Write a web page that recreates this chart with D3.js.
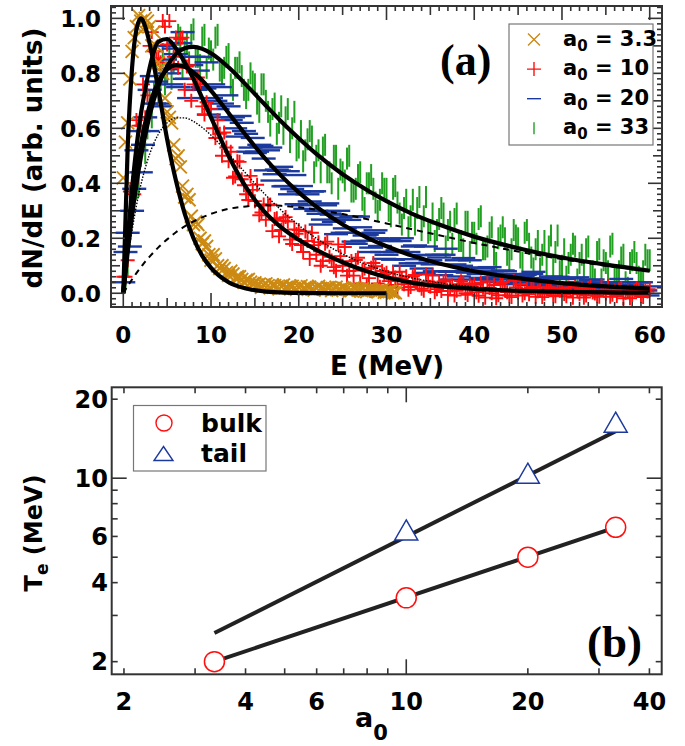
<!DOCTYPE html>
<html>
<head>
<meta charset="utf-8">
<script src="https://cdn.jsdelivr.net/npm/d3@7"></script>
<style>
  body { margin: 0; background: #fff; }
  text { font-family: "DejaVu Sans", sans-serif; font-weight: bold; fill: #000; }
  .serif { font-family: "Liberation Serif", "DejaVu Serif", serif; }
</style>
</head>
<body>
<svg id="chart" width="685" height="746"></svg>
<script>
// ---- panel (a) data : spectra, bins on whole and half-step energies ----
var energy = d3.range(0, 60.001, 0.5);       // 0, 0.5, ... 60 MeV
var energyMid = d3.range(0.25, 60, 0.5);     // 0.25, 0.75, ... 59.75 MeV
var energyGold = d3.range(0, 31.001, 0.5);
var energyGoldMid = d3.range(0.25, 31, 0.5);

var spec33 = [0.04,0.10,0.35,0.38,0.50,0.51,0.70,0.73,0.72,0.87,
  0.80,0.78,0.89,0.93,0.88,0.84,0.96,0.86,0.93,0.82,
  0.88,0.93,0.81,0.82,0.87,0.74,0.82,0.79,0.71,0.80,
  0.76,0.66,0.76,0.66,0.67,0.58,0.68,0.64,0.55,0.66,
  0.53,0.48,0.56,0.57,0.50,0.44,0.54,0.44,0.50,0.38,
  0.44,0.49,0.37,0.38,0.44,0.31,0.40,0.38,0.30,0.40,
  0.38,0.28,0.39,0.29,0.31,0.24,0.34,0.31,0.23,0.35,
  0.23,0.19,0.27,0.29,0.23,0.18,0.29,0.19,0.26,0.15,
  0.22,0.27,0.16,0.17,0.24,0.11,0.21,0.20,0.12,0.23,
  0.20,0.11,0.23,0.13,0.16,0.09,0.19,0.17,0.10,0.21,
  0.10,0.06,0.14,0.17,0.11,0.07,0.17,0.08,0.15,0.05,
  0.11,0.17,0.06,0.08,0.14,0.02,0.12,0.11,0.04,0.14,
  0.12];
var spec33Mid = [0.05,0.28,0.36,0.39,0.57,0.60,0.64,0.80,0.78,0.76,
  0.87,0.84,0.94,0.82,0.91,0.94,0.86,0.83,0.94,0.89,
  0.85,0.94,0.80,0.86,0.76,0.82,0.84,0.74,0.74,0.77,
  0.69,0.76,0.70,0.61,0.69,0.62,0.58,0.67,0.60,0.52,
  0.59,0.52,0.59,0.44,0.52,0.53,0.44,0.40,0.50,0.45,
  0.41,0.50,0.37,0.43,0.34,0.40,0.43,0.33,0.34,0.38,
  0.30,0.38,0.33,0.25,0.34,0.28,0.25,0.35,0.28,0.22,
  0.29,0.23,0.31,0.17,0.26,0.27,0.19,0.16,0.26,0.22,
  0.18,0.28,0.16,0.22,0.14,0.20,0.24,0.14,0.16,0.21,
  0.13,0.22,0.18,0.09,0.19,0.14,0.10,0.21,0.15,0.08,
  0.16,0.11,0.18,0.05,0.14,0.16,0.08,0.05,0.16,0.12,
  0.08,0.18,0.06,0.13,0.04,0.11,0.15,0.06,0.08,0.12];

var spec20 = [0.04,0.22,0.30,0.52,0.44,0.64,0.74,0.69,0.69,0.90,
  0.815,0.76,0.87,0.91,0.78,0.71,0.86,0.81,0.75,0.84,
  0.71,0.70,0.75,0.64,0.68,0.64,0.57,0.62,0.58,0.53,
  0.51,0.54,0.49,0.52,0.41,0.45,0.46,0.39,0.36,0.43,
  0.37,0.32,0.36,0.37,0.30,0.25,0.32,0.29,0.26,0.30,
  0.22,0.22,0.28,0.18,0.24,0.21,0.15,0.22,0.20,0.15,
  0.14,0.19,0.15,0.19,0.10,0.15,0.17,0.11,0.09,0.17,
  0.12,0.08,0.13,0.14,0.08,0.05,0.12,0.10,0.08,0.12,
  0.05,0.07,0.09,0.05,0.08,0.07,0.04,0.08,0.07,0.04,
  0.045,0.06,0.04,0.07,0.03,0.055,0.055,0.03,0.02,0.06,
  0.03,0.025,0.055,0.015,0.04,0.03,0.01,0.05,0.04,0.015,
  0.015,0.035,0.015,0.04,0.0,0.03,0.03,0.01,0.04,0.01,
  0.025];
var spec20Mid = [0.15,0.17,0.38,0.59,0.54,0.59,0.79,0.77,0.68,0.85,
  0.80,0.89,0.75,0.95,0.78,0.83,0.74,0.86,0.745,0.65,
  0.76,0.67,0.69,0.72,0.63,0.60,0.645,0.59,0.515,0.565,
  0.515,0.536,0.447,0.53,0.433,0.446,0.389,0.444,0.379,0.324,
  0.39,0.307,0.334,0.371,0.289,0.268,0.327,0.286,0.215,0.275,
  0.236,0.267,0.188,0.279,0.191,0.213,0.166,0.229,0.172,0.125,
  0.198,0.122,0.156,0.20,0.124,0.109,0.174,0.139,0.074,0.139,
  0.105,0.14,0.066,0.162,0.078,0.105,0.061,0.128,0.075,0.032,
  0.094,0.056,0.073,0.095,0.058,0.05,0.083,0.065,0.033,0.066,
  0.049,0.067,0.03,0.078,0.037,0.05,0.028,0.061,0.035,0.013,
  0.052,0.016,0.034,0.058,0.022,0.016,0.049,0.033,0.002,0.036,
  0.02,0.039,0.003,0.052,0.012,0.026,0.005,0.039,0.013,-0.008];

var spec10 = [0.06,0.12,0.40,0.63,0.61,0.64,0.90,0.88,0.855,0.99,
  0.905,0.83,0.93,0.925,0.74,0.83,0.76,0.785,0.68,0.695,
  0.67,0.565,0.58,0.585,0.48,0.42,0.48,0.415,0.36,0.427,
  0.335,0.284,0.323,0.32,0.226,0.273,0.23,0.277,0.195,0.232,
  0.23,0.15,0.19,0.22,0.14,0.10,0.18,0.133,0.095,0.178,
  0.10,0.064,0.117,0.121,0.036,0.09,0.055,0.11,0.036,0.081,
  0.075,0.03,0.057,0.078,0.033,0.013,0.062,0.036,0.016,0.068,
  0.024,0.004,0.038,0.043,-0.006,0.028,0.009,0.044,0.0,0.029,
  0.034,-0.009,0.02,0.043,0.0,-0.018,0.035,0.01,-0.008,0.045,
  0.003,-0.008,0.016,0.019,-0.013,0.01,-0.002,0.022,-0.007,0.013,
  0.017,-0.011,0.008,0.024,-0.004,-0.016,0.019,0.003,-0.009,0.027,
  -0.001,-0.013,0.01,0.014,-0.018,0.006,-0.006,0.018,-0.01,0.01,
  0.014];
var spec10Mid = [0.06,0.37,0.36,0.61,0.76,0.72,0.95,0.88,0.84,0.97,
  0.99,0.86,0.82,0.93,0.825,0.70,0.78,0.76,0.65,0.67,
  0.60,0.63,0.50,0.53,0.515,0.425,0.478,0.393,0.339,0.376,
  0.395,0.294,0.267,0.323,0.27,0.207,0.264,0.261,0.179,0.216,
  0.175,0.225,0.125,0.175,0.186,0.117,0.188,0.119,0.082,0.135,
  0.168,0.081,0.064,0.129,0.083,0.028,0.093,0.098,0.024,0.069,
  0.044,0.077,0.02,0.053,0.062,0.023,0.067,0.029,0.009,0.043,
  0.065,0.015,0.008,0.049,0.023,-0.008,0.033,0.037,-0.006,0.023,
  0.004,0.039,-0.016,0.019,0.03,-0.007,0.041,0.004,-0.014,0.021,
  0.033,0.0,-0.004,0.023,0.007,-0.014,0.014,0.018,-0.011,0.009,
  -0.003,0.021,-0.016,0.008,0.016,-0.008,0.023,-0.001,-0.013,0.011,
  0.027,-0.005,-0.01,0.018,0.002,-0.018,0.01,0.014,-0.014,0.006];

var spec3 = [0.42,0.62,0.88,0.97,0.99,1.0,0.97,0.95,0.84,0.80,
  0.66,0.62,0.49,0.46,0.35,0.34,0.25,0.25,0.18,0.17,
  0.12,0.125,0.09,0.09,0.065,0.07,0.06,0.05,0.048,0.04,
  0.038,0.033,0.03,0.028,0.03,0.022,0.025,0.02,0.026,0.018,
  0.022,0.017,0.024,0.015,0.02,0.018,0.013,0.021,0.016,0.012,
  0.02,0.014,0.01,0.018,0.012,0.008,0.015,0.01,0.006,0.012,
  0.004,0.008,0.002];
var spec3Mid = [0.55,0.78,0.93,1.01,0.96,0.99,0.90,0.90,0.82,0.71,
  0.64,0.54,0.50,0.39,0.36,0.28,0.26,0.20,0.19,0.14,
  0.14,0.10,0.10,0.075,0.08,0.055,0.06,0.04,0.05,0.035,
  0.03,0.022,0.034,0.02,0.028,0.016,0.03,0.02,0.025,0.014,
  0.027,0.018,0.022,0.012,0.025,0.016,0.02,0.01,0.022,0.014,
  0.018,0.008,0.02,0.012,0.016,0.006,0.014,0.008,0.01,0.004,
  0.008,0.002];

// ---- panel (a) fitted curves ----
var fitE   = [0,0.5,1,1.5,2,2.5,3,4,5,6,7,8,9,10,12,14,16,18,20,22,25,28,30,33,36,40,45,50,55,60];
var fit3   = [0,0.53,0.82,0.96,1.0,0.97,0.91,0.74,0.56,0.41,0.29,0.2,0.136,0.092,0.04,0.017,0.007,0.003,0.0012,0.0005,0,0,0];
var fit10  = [0,0.2,0.38,0.53,0.65,0.74,0.82,0.915,0.925,0.89,0.84,0.78,0.71,0.64,0.5,0.385,0.3,0.24,0.195,0.158,0.113,0.077,0.058,0.038,0.026,0.016,0.009,0.005,0.003,0.002];
var fit20  = [0,0.175,0.32,0.44,0.54,0.62,0.683,0.77,0.815,0.83,0.824,0.803,0.774,0.737,0.656,0.574,0.496,0.427,0.367,0.315,0.25,0.199,0.171,0.136,0.108,0.08,0.055,0.037,0.025,0.017];
var fit33  = [0,0.15,0.283,0.397,0.494,0.575,0.647,0.755,0.826,0.87,0.891,0.896,0.889,0.873,0.822,0.758,0.691,0.625,0.564,0.507,0.433,0.371,0.335,0.288,0.25,0.206,0.164,0.13,0.104,0.082];
var bulk33 = [0,0.124,0.229,0.319,0.394,0.455,0.506,0.579,0.62,0.638,0.638,0.625,0.603,0.575,0.507,0.435,0.365,0.302,0.247,0.2,0.143,0.101,0.079,0.055,0.038,0.023,0.012,0.006,0.003,0.0015];
var tail33 = [0,0.026,0.05,0.073,0.094,0.115,0.133,0.167,0.196,0.222,0.243,0.261,0.276,0.289,0.307,0.316,0.32,0.318,0.313,0.304,0.288,0.268,0.254,0.232,0.211,0.183,0.152,0.124,0.1,0.081];

var legendA = ["3.3", "10", "20", "33"];

// ---- panel (b) data ----
var a0Pts   = [3.35, 10, 20, 33];
var teBulk  = [2.0, 3.5, 5.0, 6.5];
var a0Tail  = [10, 20, 33];
var teTail  = [6.35, 10.45, 16.35];
var fitA0   = [3.35, 33];
var fitBulk = [2.0, 6.5];
var fitTail = [2.57, 15.1];
var xLabelsB = [2, 4, 6, 10, 20, 40];
var yLabelsB = [2, 4, 6, 10, 20];

var svg = d3.select("#chart");

// colours
var cGold = "#cc8a12", cRed = "#ff0f0f", cBlue = "#1c3a9e", cGreen = "#22a022";

// ================= panel (a) =================
var xA = d3.scaleLinear().domain([-1.4, 61.4]).range([111, 662]);
var yA = d3.scaleLinear().domain([-0.05, 1.045]).range([307, 6]);

svg.append("defs").append("clipPath").attr("id", "clipA")
  .append("rect").attr("x", 111).attr("y", 6).attr("width", 551).attr("height", 301);

var gA = svg.append("g").attr("clip-path", "url(#clipA)");

// a0 = 33 : vertical bars
function bars(vals, es) {
  gA.append("g").selectAll("line").data(vals).join("line")
    .attr("x1", (d, i) => xA(es[i])).attr("x2", (d, i) => xA(es[i]))
    .attr("y1", d => yA(d) - 11).attr("y2", d => yA(d) + 11)
    .attr("stroke", cGreen).attr("stroke-width", 2);
}
bars(spec33, energy);
bars(spec33Mid, energyMid);

// a0 = 20 : horizontal dashes
function dashes(vals, es) {
  gA.append("g").selectAll("line").data(vals).join("line")
    .attr("x1", (d, i) => xA(es[i]) - 12).attr("x2", (d, i) => xA(es[i]) + 12)
    .attr("y1", d => yA(d)).attr("y2", d => yA(d))
    .attr("stroke", cBlue).attr("stroke-width", 2.4);
}
dashes(spec20, energy);
dashes(spec20Mid, energyMid);

// a0 = 10 : plus, a0 = 3.3 : cross
function glyphs(vals, es, path, col) {
  gA.append("g").selectAll("path").data(vals).join("path")
    .attr("transform", (d, i) => "translate(" + xA(es[i]) + "," + yA(d) + ")")
    .attr("d", path).attr("stroke", col).attr("stroke-width", 1.9).attr("fill", "none");
}
var plus = "M-7,0H7M0,-7V7", cross = "M-6.5,-6.5L6.5,6.5M-6.5,6.5L6.5,-6.5";
glyphs(spec10, energy, plus, cRed);
glyphs(spec10Mid, energyMid, plus, cRed);
glyphs(spec3, energyGold, cross, cGold);
glyphs(spec3Mid, energyGoldMid, cross, cGold);

var fitLine = d3.line()
  .x((d, i) => xA(fitE[i]))
  .y(d => yA(d))
  .curve(d3.curveMonotoneX);

gA.append("path").attr("d", fitLine(tail33)).attr("fill", "none")
  .attr("stroke", "#000").attr("stroke-width", 2).attr("stroke-dasharray", "6,5");
gA.append("path").attr("d", fitLine(bulk33)).attr("fill", "none")
  .attr("stroke", "#000").attr("stroke-width", 1.4).attr("stroke-dasharray", "1.5,1.5");
[fit3, fit10, fit20, fit33].forEach(f => {
  gA.append("path").attr("d", fitLine(f)).attr("fill", "none")
    .attr("stroke", "#000").attr("stroke-width", 4.2);
});

// frame + ticks
var axA = svg.append("g").attr("stroke", "#333").attr("stroke-width", 1.6);
d3.range(0, 61).forEach(e => {
  var len = e % 10 === 0 ? 14 : e % 5 === 0 ? 9 : 5;
  axA.append("line").attr("x1", xA(e)).attr("x2", xA(e)).attr("y1", 307).attr("y2", 307 - len);
  axA.append("line").attr("x1", xA(e)).attr("x2", xA(e)).attr("y1", 6).attr("y2", 6 + len);
});
d3.range(-2, 53).forEach(i => {
  var len = i % 10 === 0 ? 14 : i % 5 === 0 ? 9 : 5;
  var y = yA(i * 0.02);
  axA.append("line").attr("x1", 111).attr("x2", 111 + len).attr("y1", y).attr("y2", y);
  axA.append("line").attr("x1", 662).attr("x2", 662 - len).attr("y1", y).attr("y2", y);
});
svg.append("rect").attr("x", 111).attr("y", 6).attr("width", 551).attr("height", 301)
  .attr("fill", "none").attr("stroke", "#333").attr("stroke-width", 2);

// tick labels
svg.append("g").selectAll("text").data(d3.range(0, 61, 10)).join("text")
  .attr("x", d => xA(d)).attr("y", 343).attr("text-anchor", "middle")
  .attr("font-size", 23).text(d => d);
svg.append("g").selectAll("text").data(d3.range(0, 1.01, 0.2)).join("text")
  .attr("x", 101).attr("y", d => yA(d) + 8.4).attr("text-anchor", "end")
  .attr("font-size", 23).text(d => d3.format(".1f")(d));

svg.append("text").attr("x", 387).attr("y", 375).attr("text-anchor", "middle")
  .attr("font-size", 26).text("E (MeV)");
svg.append("text").attr("transform", "translate(42,158) rotate(-90)")
  .attr("text-anchor", "middle").attr("font-size", 26).text("dN/dE (arb. units)");

svg.append("text").attr("class", "serif").attr("x", 440).attr("y", 75)
  .attr("font-size", 44).text("(a)");

// legend (a)
svg.append("rect").attr("x", 509).attr("y", 24).attr("width", 144).attr("height", 121)
  .attr("fill", "#fff").attr("stroke", "#777").attr("stroke-width", 1.2);
var legMarks = [
  { d: "M-6,-6L6,6M-6,6L6,-6", c: cGold },
  { d: "M-7,0H7M0,-7V7", c: cRed },
  { d: "M-7,0H7", c: cBlue },
  { d: "M0,-6V6", c: cGreen }
];
legendA.forEach((lab, i) => {
  var cy = 39.5 + i * 29.6;
  svg.append("path").attr("transform", "translate(534," + cy + ")")
    .attr("d", legMarks[i].d).attr("stroke", legMarks[i].c)
    .attr("stroke-width", 1.4).attr("fill", "none");
  var t = svg.append("text").attr("x", 563).attr("y", cy + 6).attr("font-size", 21);
  t.append("tspan").text("a");
  t.append("tspan").attr("font-size", 15).attr("dy", 5).text("0");
  t.append("tspan").attr("dy", -5).text(" = " + lab);
});

// ================= panel (b) =================
var xB = d3.scaleLog().domain([1.865, 42.9]).range([111.7, 661.7]);
var yB = d3.scaleLog().domain([1.79, 22.2]).range([674.3, 387.3]);

var lineB = d3.line().x((d, i) => xB(fitA0[i])).y(d => yB(d));
svg.append("path").attr("d", lineB(fitBulk)).attr("fill", "none")
  .attr("stroke", "#222").attr("stroke-width", 4);
svg.append("path").attr("d", lineB(fitTail)).attr("fill", "none")
  .attr("stroke", "#222").attr("stroke-width", 4);

svg.append("g").selectAll("circle").data(teBulk).join("circle")
  .attr("cx", (d, i) => xB(a0Pts[i])).attr("cy", d => yB(d)).attr("r", 10)
  .attr("fill", "#fff").attr("stroke", cRed).attr("stroke-width", 1.5);

var tri = "M0,-10L11.5,10L-11.5,10Z";
svg.append("g").selectAll("path").data(teTail).join("path")
  .attr("transform", (d, i) => "translate(" + xB(a0Tail[i]) + "," + yB(d) + ")")
  .attr("d", tri).attr("fill", "#fff").attr("stroke", cBlue).attr("stroke-width", 1.5);

var axB = svg.append("g").attr("stroke", "#333").attr("stroke-width", 1.6);
[2, 3, 4, 5, 6, 7, 8, 9, 10, 20, 30, 40].forEach(v => {
  var len = v === 10 ? 15 : 6;
  axB.append("line").attr("x1", xB(v)).attr("x2", xB(v)).attr("y1", 674.3).attr("y2", 674.3 - len);
  axB.append("line").attr("x1", xB(v)).attr("x2", xB(v)).attr("y1", 387.3).attr("y2", 387.3 + len);
});
[2, 3, 4, 5, 6, 7, 8, 9, 10, 20].forEach(v => {
  var len = v === 10 ? 15 : 6;
  axB.append("line").attr("x1", 111.7).attr("x2", 111.7 + len).attr("y1", yB(v)).attr("y2", yB(v));
  axB.append("line").attr("x1", 661.7).attr("x2", 661.7 - len).attr("y1", yB(v)).attr("y2", yB(v));
});
svg.append("rect").attr("x", 111.7).attr("y", 387.3).attr("width", 550).attr("height", 287)
  .attr("fill", "none").attr("stroke", "#333").attr("stroke-width", 2);

svg.append("g").selectAll("text").data(xLabelsB).join("text")
  .attr("x", d => xB(d)).attr("y", 710).attr("text-anchor", "middle")
  .attr("font-size", 24).text(d => d);
svg.append("g").selectAll("text").data(yLabelsB).join("text")
  .attr("x", 108).attr("y", d => yB(d) + 8.7).attr("text-anchor", "end")
  .attr("font-size", 24).text(d => d);

var xt = svg.append("text").attr("x", 355).attr("y", 727).attr("font-size", 27);
xt.append("tspan").text("a");
xt.append("tspan").attr("font-size", 21).attr("dy", 13).text("0");

var yt = svg.append("text").attr("transform", "translate(42,533) rotate(-90)")
  .attr("text-anchor", "middle").attr("font-size", 24);
yt.append("tspan").text("T");
yt.append("tspan").attr("font-size", 17).attr("dy", 6).text("e");
yt.append("tspan").attr("dy", -6).text(" (MeV)");

svg.append("text").attr("class", "serif").attr("x", 587).attr("y", 657)
  .attr("font-size", 45).text("(b)");

// legend (b)
svg.append("rect").attr("x", 133.5).attr("y", 405.5).attr("width", 132.5).attr("height", 65.5)
  .attr("fill", "#fff").attr("stroke", "#777").attr("stroke-width", 1.2);
svg.append("circle").attr("cx", 164).attr("cy", 423).attr("r", 8)
  .attr("fill", "none").attr("stroke", cRed).attr("stroke-width", 1.4);
svg.append("path").attr("transform", "translate(163.5,453.5)")
  .attr("d", "M0,-7L9.5,7L-9.5,7Z").attr("fill", "none")
  .attr("stroke", cBlue).attr("stroke-width", 1.4);
svg.append("text").attr("x", 201).attr("y", 432).attr("font-size", 25).text("bulk");
svg.append("text").attr("x", 201).attr("y", 462).attr("font-size", 25).text("tail");
</script>
</body>
</html>
